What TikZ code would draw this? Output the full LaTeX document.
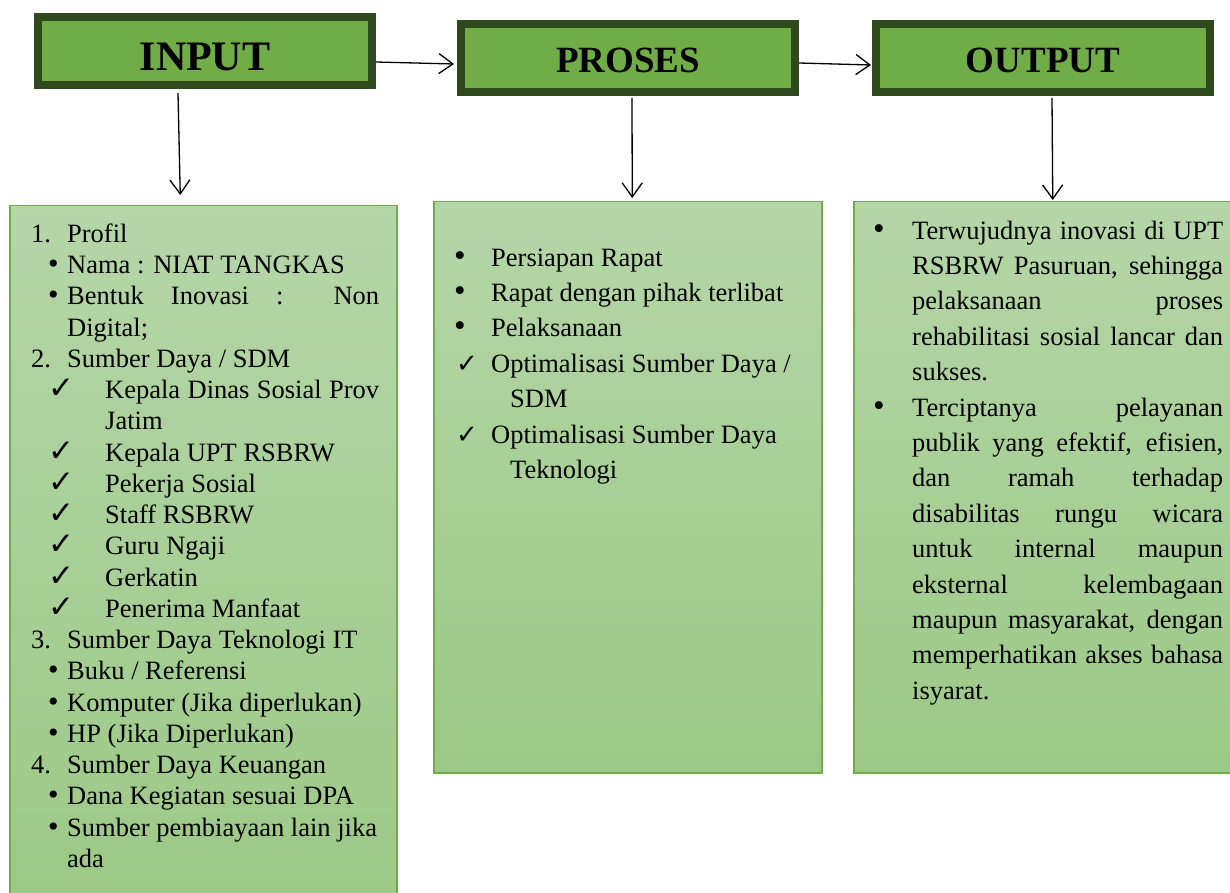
\documentclass[tikz,border=0pt]{standalone}
\usepackage{fontspec}
\setmainfont{Liberation Serif}
\newfontfamily\checkfont{DejaVu Sans}
\usepackage{xcolor}
\usetikzlibrary{positioning,arrows.meta}

\definecolor{headfill}{HTML}{70AD47}
\definecolor{headline}{HTML}{2E4A1C}
\definecolor{boxtop}{HTML}{B5D6A8}
\definecolor{boxbot}{HTML}{9CC986}
\definecolor{boxline}{HTML}{70AD47}

% list marker: marker pos, text pos, hanging indent, marker
\newcommand{\itm}[4]{\par\hangindent=#3pt\hangafter=1\noindent\strut\hspace*{#1pt}\rlap{#4}\hspace*{\dimexpr#2pt-#1pt\relax}}
\newcommand{\ck}[1]{{\checkfont\fontsize{#1}{#1}\selectfont ✓}}
\newcommand{\bul}[1]{{\fontsize{#1}{#1}\selectfont\textbullet}}

\tikzset{
  hdr/.style={draw=headline, line width=8pt, fill=headfill, minimum width=334pt,
    minimum height=68pt, inner sep=0pt, text depth=0pt, text height=28.5pt,
    font=\bfseries\fontsize{37}{37}\selectfont},
  lbox/.style={draw=boxline, line width=1.5pt, top color=boxtop, bottom color=boxbot,
    anchor=north west, inner sep=0pt},
  lst/.style={anchor=north west, inner sep=0pt, text width=#1, align=justify},
  arr/.style={-{Straight Barb[length=14pt,width=20pt]}, line width=1.3pt}
}

\begin{document}
\begin{tikzpicture}[x=1pt, y=-1pt]
\useasboundingbox (0,0) rectangle (1230,893);

\node (hin) [hdr, text height=40pt, font=\bfseries\fontsize{42}{42}\selectfont] at (205,51) {INPUT};
\node (hpro) [hdr, right=81pt of hin, yshift=-7pt] {PROSES};
\node (hout) [hdr, right=73pt of hpro] {OUTPUT};

\node (bin) [lbox, minimum width=387pt, minimum height=700pt] at (9,205) {};
\node (bpro) [lbox, minimum width=388pt, minimum height=571pt] at (433,201) {};
\node (bout) [lbox, minimum width=390pt, minimum height=571pt] at (853,201) {};

% input list
\node (tin) [lst=348pt, font=\fontsize{26.5}{31.25}\selectfont] at (31,211) {%
\hyphenpenalty=10000\tolerance=10000\parindent=0pt
\itm{0}{36}{36}{1.}Profil
\itm{17}{36}{36}{\bul{30}}Nama : NIAT TANGKAS
\itm{17}{36}{36}{\bul{30}}Bentuk Inovasi : Non\linebreak Digital;
\itm{0}{36}{36}{2.}Sumber Daya / SDM
\itm{17}{74}{74}{\ck{31}}Kepala Dinas Sosial Prov\linebreak Jatim
\itm{17}{74}{74}{\ck{31}}Kepala UPT RSBRW
\itm{17}{74}{74}{\ck{31}}Pekerja Sosial
\itm{17}{74}{74}{\ck{31}}Staff RSBRW
\itm{17}{74}{74}{\ck{31}}Guru Ngaji
\itm{17}{74}{74}{\ck{31}}Gerkatin
\itm{17}{74}{74}{\ck{31}}Penerima Manfaat
\itm{0}{36}{36}{3.}Sumber Daya Teknologi IT
\itm{17}{36}{36}{\bul{30}}Buku / Referensi
\itm{17}{36}{36}{\bul{30}}Komputer (Jika diperlukan)
\itm{17}{36}{36}{\bul{30}}HP (Jika Diperlukan)
\itm{0}{36}{36}{4.}Sumber Daya Keuangan
\itm{17}{36}{36}{\bul{30}}Dana Kegiatan sesuai DPA
\itm{17}{36}{36}{\bul{30}}Sumber pembiayaan lain jika\\ada\par};

% proses list
\node (tpro) [lst=350pt, font=\fontsize{26.5}{35.4}\selectfont] at (454,230.5) {%
\hyphenpenalty=10000\tolerance=10000\parindent=0pt
\itm{0}{37}{37}{\bul{33}}Persiapan Rapat
\itm{0}{37}{37}{\bul{33}}Rapat dengan pihak terlibat
\itm{0}{37}{37}{\bul{33}}Pelaksanaan
\itm{2}{37}{56}{\ck{26}}Optimalisasi Sumber Daya /\\SDM
\itm{2}{37}{56}{\ck{26}}Optimalisasi Sumber Daya\\Teknologi\par};

% output list
\node (tout) [lst=350pt, font=\fontsize{26.5}{35.4}\selectfont] at (873,203.5) {%
\hyphenpenalty=10000\tolerance=10000\parindent=0pt
\itm{0}{39}{39}{\bul{33}}Terwujudnya inovasi di UPT\linebreak RSBRW Pasuruan, sehingga\linebreak
pelaksanaan proses\linebreak rehabilitasi sosial lancar dan\linebreak sukses.
\itm{0}{39}{39}{\bul{33}}Terciptanya pelayanan\linebreak publik yang efektif, efisien,\linebreak
dan ramah terhadap\linebreak disabilitas rungu wicara\linebreak untuk internal maupun\linebreak
eksternal kelembagaan\linebreak maupun masyarakat, dengan\linebreak
memperhatikan akses bahasa\linebreak isyarat.\par};

\draw[arr] ([yshift=-11pt]hin.east) -- ([xshift=-3pt,yshift=-6pt]hpro.west);
\draw[arr] ([yshift=-5pt]hpro.east) -- ([xshift=-1pt,yshift=-7pt]hout.west);
\draw[arr] ([xshift=-27pt,yshift=-4pt]hin.south) -- ([xshift=-23pt,yshift=10pt]bin.north);
\draw[arr] ([xshift=4pt,yshift=-2pt]hpro.south) -- ([xshift=4.5pt,yshift=3pt]bpro.north);
\draw[arr] ([xshift=9pt,yshift=-2pt]hout.south) -- ([xshift=4pt,yshift=1pt]bout.north);
\end{tikzpicture}
\end{document}
